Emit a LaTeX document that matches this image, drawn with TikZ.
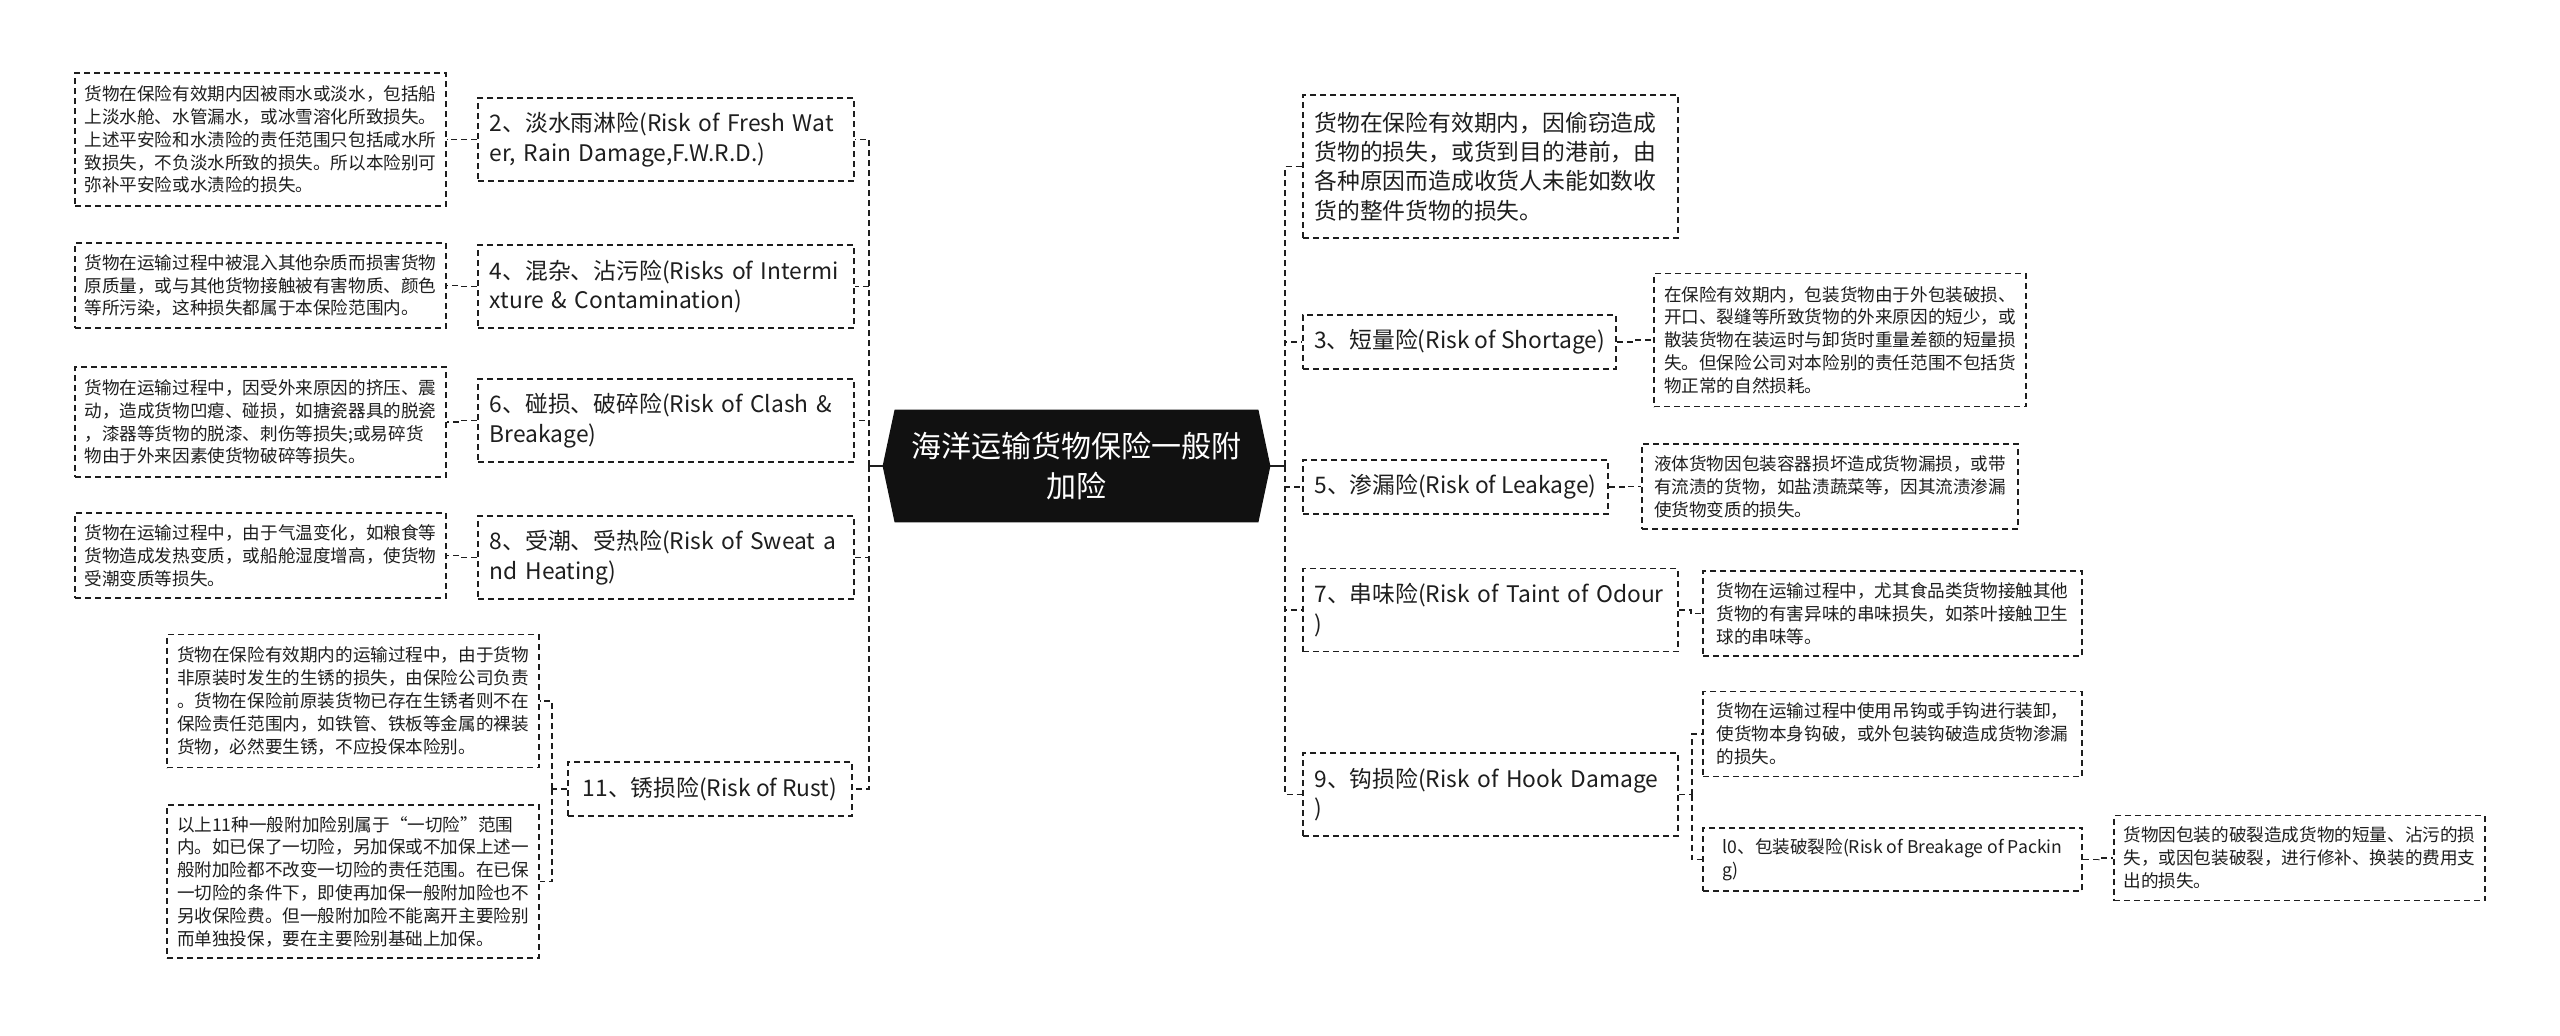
\documentclass[tikz,border=0pt]{standalone}
\usepackage{fontspec}
\setmainfont{Noto Sans CJK SC}
\usetikzlibrary{backgrounds}
\definecolor{ink}{HTML}{1E1E1E}
\definecolor{hub}{HTML}{111111}
\newcommand{\dfont}{\fontsize{8.8pt}{11.4pt}\selectfont}
\newcommand{\nfont}{\fontsize{11.4pt}{14.7pt}\selectfont}
\newcommand{\cfont}{\fontsize{15pt}{20.4pt}\selectfont}
\begin{document}
\begin{tikzpicture}[x=0.5pt,y=-0.5pt,
  box/.style={draw=ink, line width=0.9pt, dash pattern=on 3pt off 2pt, text=ink, align=left, inner sep=0pt, anchor=center},
  dbox/.style={box, font=\dfont},
  nbox/.style={box, font=\nfont},
  wide/.style={inner xsep=5.7pt, inner ysep=0pt, text width=176.1pt},
  conn/.style={draw=ink, line width=0.9pt, dash pattern=on 3pt off 2pt},
  hubline/.style={draw=ink, line width=1pt}
]
\useasboundingbox (0,0) rectangle (2560,1035);

% centre
\node[font=\cfont, text=white, align=center, minimum width=193.5pt, minimum height=56pt, inner sep=0pt] (C) at (1076.5,466) {海洋运输货物保险一般附\\加险};
\begin{scope}[on background layer]
\fill[white] (0,0) rectangle (2560,1035);
\fill[hub] ([xshift=6pt]C.north west) -- ([xshift=-6pt]C.north east) -- (C.east) -- ([xshift=-6pt]C.south east) -- ([xshift=6pt]C.south west) -- (C.west) -- cycle;
\end{scope}
\coordinate (LT) at (869,466);
\coordinate (RT) at (1285,466);

% left branch
\node[nbox, wide, minimum width=188pt, minimum height=41.5pt] (L2n) at (666,139.5) {2、淡水雨淋险(Risk of Fresh Wat\\er, Rain Damage,F.W.R.D.)};
\node[dbox, minimum width=185.5pt, minimum height=66.5pt] (L2d) at (260.5,139.5) {货物在保险有效期内因被雨水或淡水，包括船\\上淡水舱、水管漏水，或冰雪溶化所致损失。\\上述平安险和水渍险的责任范围只包括咸水所\\致损失，不负淡水所致的损失。所以本险别可\\弥补平安险或水渍险的损失。};

\node[nbox, wide, minimum width=188pt, minimum height=41.5pt] (L4n) at (666,286.5) {4、混杂、沾污险(Risks of Intermi\\xture \& Contamination)};
\node[dbox, minimum width=185.5pt, minimum height=42.5pt] (L4d) at (260.5,285.5) {货物在运输过程中被混入其他杂质而损害货物\\原质量，或与其他货物接触被有害物质、颜色\\等所污染，这种损失都属于本保险范围内。};

\node[nbox, wide, minimum width=188pt, minimum height=41.5pt] (L6n) at (666,420.5) {6、碰损、破碎险(Risk of Clash \&\\Breakage)};
\node[dbox, minimum width=185.5pt, minimum height=55pt] (L6d) at (260.5,422) {货物在运输过程中，因受外来原因的挤压、震\\动，造成货物凹瘪、碰损，如搪瓷器具的脱瓷\\，漆器等货物的脱漆、刺伤等损失;或易碎货\\物由于外来因素使货物破碎等损失。};

\node[nbox, wide, minimum width=188pt, minimum height=41.5pt] (L8n) at (666,557.5) {8、受潮、受热险(Risk of Sweat a\\nd Heating)};
\node[dbox, minimum width=185.5pt, minimum height=42.5pt] (L8d) at (260.5,555.5) {货物在运输过程中，由于气温变化，如粮食等\\货物造成发热变质，或船舱湿度增高，使货物\\受潮变质等损失。};

\node[nbox, minimum width=142pt, minimum height=27pt] (L11n) at (710,789) {11、锈损险(Risk of Rust)};
\node[dbox, minimum width=186pt, minimum height=66.5pt] (L11a) at (353,701) {货物在保险有效期内的运输过程中，由于货物\\非原装时发生的生锈的损失，由保险公司负责\\。货物在保险前原装货物已存在生锈者则不在\\保险责任范围内，如铁管、铁板等金属的裸装\\货物，必然要生锈，不应投保本险别。};
\node[dbox, minimum width=186pt, minimum height=76.5pt] (L11b) at (353,881.5) {以上11种一般附加险别属于“一切险”范围\\内。如已保了一切险，另加保或不加保上述一\\般附加险都不改变一切险的责任范围。在已保\\一切险的条件下，即使再加保一般附加险也不\\另收保险费。但一般附加险不能离开主要险别\\而单独投保，要在主要险别基础上加保。};

% right branch
\node[nbox, wide, minimum width=187.5pt, minimum height=71.5pt] (R1) at (1490.5,166.5) {货物在保险有效期内，因偷窃造成\\货物的损失，或货到目的港前，由\\各种原因而造成收货人未能如数收\\货的整件货物的损失。};

\node[nbox, minimum width=156.5pt, minimum height=27pt] (R3n) at (1459.5,342) {3、短量险(Risk of Shortage)};
\node[dbox, minimum width=186pt, minimum height=66.5pt] (R3d) at (1840,340) {在保险有效期内，包装货物由于外包装破损、\\开口、裂缝等所致货物的外来原因的短少，或\\散装货物在装运时与卸货时重量差额的短量损\\失。但保险公司对本险别的责任范围不包括货\\物正常的自然损耗。};

\node[nbox, minimum width=152.5pt, minimum height=27pt] (R5n) at (1455.5,487) {5、渗漏险(Risk of Leakage)};
\node[dbox, minimum width=188pt, minimum height=42.5pt] (R5d) at (1830,486.5) {液体货物因包装容器损坏造成货物漏损，或带\\有流渍的货物，如盐渍蔬菜等，因其流渍渗漏\\使货物变质的损失。};

\node[nbox, wide, minimum width=187.5pt, minimum height=41.5pt] (R7n) at (1490.5,610) {7、串味险(Risk of Taint of Odour\\)};
\node[dbox, minimum width=189.5pt, minimum height=42.5pt] (R7d) at (1892.5,613.5) {货物在运输过程中，尤其食品类货物接触其他\\货物的有害异味的串味损失，如茶叶接触卫生\\球的串味等。};

\node[nbox, wide, minimum width=187.5pt, minimum height=41.5pt] (R9n) at (1490.5,794.5) {9、钩损险(Risk of Hook Damage\\)};
\node[dbox, minimum width=189.5pt, minimum height=42.5pt] (R9d) at (1892.5,734) {货物在运输过程中使用吊钩或手钩进行装卸，\\使货物本身钩破，或外包装钩破造成货物渗漏\\的损失。};
\node[dbox, minimum width=189.5pt, minimum height=31.8pt] (R10n) at (1892.5,859.5) {l0、包装破裂险(Risk of Breakage of Packin\\g)};
\node[dbox, minimum width=185.5pt, minimum height=42.5pt] (R10d) at (2299.5,858) {货物因包装的破裂造成货物的短量、沾污的损\\失，或因包装破裂，进行修补、换装的费用支\\出的损失。};

% connectors from the hub
\draw[hubline] (C.west) -- (LT);
\draw[hubline] (C.east) -- (RT);
\foreach \n in {L2n,L4n,L6n,L8n,L11n} \draw[conn] (LT) |- (\n.east);
\foreach \n in {R1,R3n,R5n,R7n,R9n} \draw[conn] (RT) |- (\n.west);

% left details
\draw[conn] (L2n.west) -- ++(-16,0) |- (L2d.east);
\draw[conn] (L4n.west) -- ++(-16,0) |- (L4d.east);
\draw[conn] (L6n.west) -- ++(-16,0) |- (L6d.east);
\draw[conn] (L8n.west) -- ++(-16,0) |- (L8d.east);
\draw[conn] (L11n.west) -- ++(-15,0) coordinate (L11s);
\draw[conn] (L11s) |- (L11a.east);
\draw[conn] (L11s) |- (L11b.east);

% right details
\draw[conn] (R3n.east) -- ++(19,0) |- (R3d.west);
\draw[conn] (R5n.east) -- ++(17,0) |- (R5d.west);
\draw[conn] (R7n.east) -- ++(12,0) |- (R7d.west);
\draw[conn] (R9n.east) -- ++(13,0) coordinate (R9s);
\draw[conn] (R9s) |- (R9d.west);
\draw[conn] (R9s) |- (R10n.west);
\draw[conn] (R10n.east) -- ++(16,0) |- (R10d.west);
\end{tikzpicture}
\end{document}
